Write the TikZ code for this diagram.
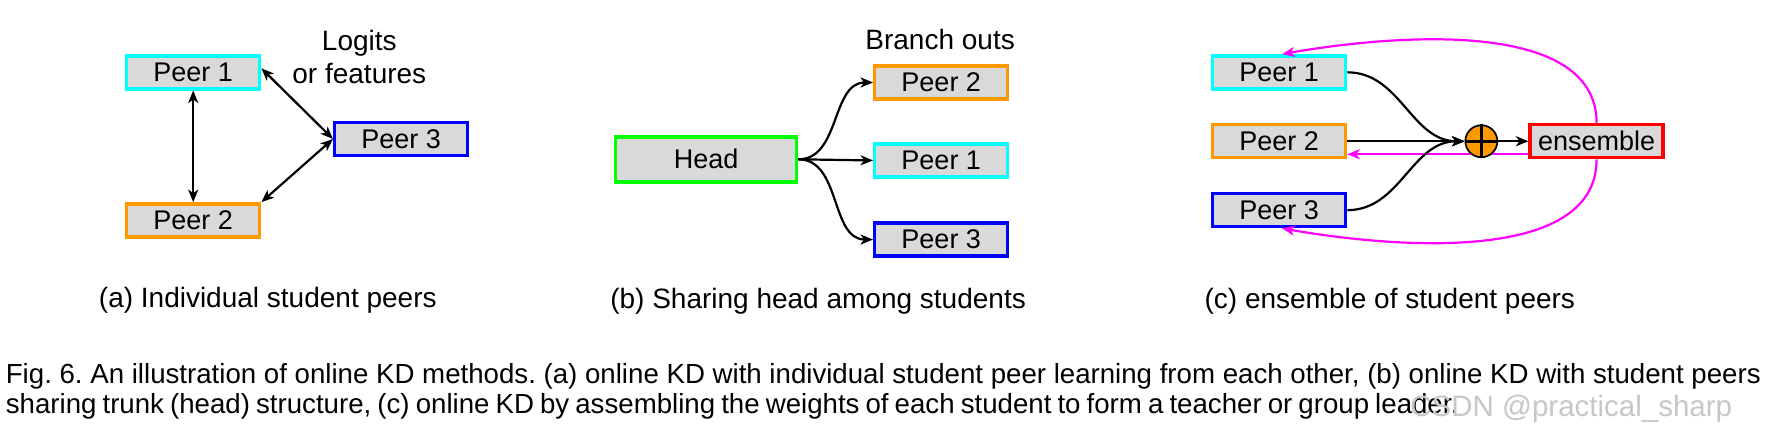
\documentclass[tikz,border=0pt]{standalone}
\usepackage{fontspec}
\setmainfont{Liberation Sans}
\usetikzlibrary{arrows.meta}
\definecolor{boxgray}{HTML}{D9D9D9}
\definecolor{pcyan}{HTML}{00FFFF}
\definecolor{porange}{HTML}{FF9900}
\definecolor{pblue}{HTML}{0000FF}
\definecolor{pgreen}{HTML}{00FF00}
\definecolor{pred}{HTML}{FF0000}
\definecolor{pmag}{HTML}{FF00FF}
\frenchspacing
\begin{document}
\begin{tikzpicture}[x=1.13pt,y=-1.13pt,
  peerbox/.style={draw, line width=3.4pt, fill=boxgray, inner sep=0pt,
    minimum width=133pt, minimum height=33pt, font=\fontsize{27}{32}\selectfont},
  lbl/.style={inner sep=0pt, font=\fontsize{28}{33}\selectfont, align=center},
  captext/.style={inner sep=0pt, font=\fontsize{28}{33}\selectfont},
  figtext/.style={inner sep=0pt, font=\fontsize{27.65}{33}\selectfont},
  arr/.style={line width=2.2pt, -{Stealth[length=12.5pt,width=10pt,inset=3.5pt]}},
  darr/.style={line width=2.2pt, {Stealth[length=12.5pt,width=10pt,inset=3.5pt]}-{Stealth[length=12.5pt,width=10pt,inset=3.5pt]}},
  marr/.style={line width=2.2pt, draw=pmag, -{Stealth[length=12.5pt,width=10pt,inset=3.5pt]}}]
\useasboundingbox (0,0) rectangle (1570,393.8);
\fill[white] (0,0) rectangle (1570,393.8);

% ---------- (a)
\node[peerbox, draw=pcyan] (a1) at (171,64) {Peer 1};
\node[peerbox, draw=porange] (a2) at (171,195) {Peer 2};
\node[peerbox, draw=pblue] (a3) at (355,123) {Peer 3};
\node[lbl] (alog) at (318,50) {Logits\\or features};
\draw[darr] (a1.south) -- (a2.north);
\draw[darr] ([yshift=4pt]a1.east) -- (a3.west);
\draw[darr] (a3.west) -- (a2.north east);
\node[captext] (capa) at (237,266) {(a) Individual student peers};

% ---------- (b)
\node[peerbox, draw=pgreen, minimum width=181pt, minimum height=45pt] (hd) at (625,141) {Head};
\node[peerbox, draw=porange] (b2) at (833,73) {Peer 2};
\node[peerbox, draw=pcyan] (b1) at (833,142) {Peer 1};
\node[peerbox, draw=pblue] (b3) at (833,212) {Peer 3};
\node[lbl] (bout) at (832,35) {Branch outs};
\draw[arr] (hd.east) to[out=0,in=180] (b2.west);
\draw[arr] (hd.east) -- (b1.west);
\draw[arr] (hd.east) to[out=0,in=180] (b3.west);
\node[captext] (capb) at (724,267) {(b) Sharing head among students};

% ---------- (c)
\node[peerbox, draw=pcyan] (c1) at (1132,64) {Peer 1};
\node[peerbox, draw=porange] (c2) at (1132,125) {Peer 2};
\node[peerbox, draw=pblue] (c3) at (1132,186) {Peer 3};
\node[peerbox, draw=pred] (ens) at (1413,125) {ensemble};
\draw[marr] ([yshift=-13pt]ens.west) -- ([yshift=-13pt]c2.east);
\node[circle, draw=black, line width=1.7pt, fill=porange, minimum size=32pt, inner sep=0pt] (op) at (1311,125) {};
\draw[line width=2.8pt] (op.north) -- (op.south);
\draw[line width=2.8pt] (op.west) -- (op.east);
\draw[arr] (c1.east) to[out=0,in=180] (op.west);
\draw[arr] (c2.east) -- (op.west);
\draw[arr] (c3.east) to[out=0,in=180] (op.west);
\draw[arr] (op.east) -- (ens.west);
\draw[marr] (ens.north) to[out=90,in=10,looseness=0.85] ([xshift=3pt]c1.north);
\draw[marr] (ens.south) to[out=-90,in=-10,looseness=0.85] ([xshift=3pt]c3.south);
\node[captext] (capc) at (1230,267) {(c) ensemble of student peers};

% ---------- caption
\node[figtext, anchor=west] (fig1) at (5,333) {Fig. 6. An illustration of online KD methods. (a) online KD with individual student peer learning from each other, (b) online KD with student peers};
\node[figtext, anchor=west] (fig2) at (5,360) {\spaceskip=0.22em sharing trunk (head) structure, (c) online KD by assembling the weights of each student to form a teacher or group leader.};
\node[inner sep=0pt, font=\fontsize{29.5}{34}\selectfont, anchor=west, text=black!22] (wm) at (1248,362) {CSDN @practical\_sharp};
\end{tikzpicture}
\end{document}
